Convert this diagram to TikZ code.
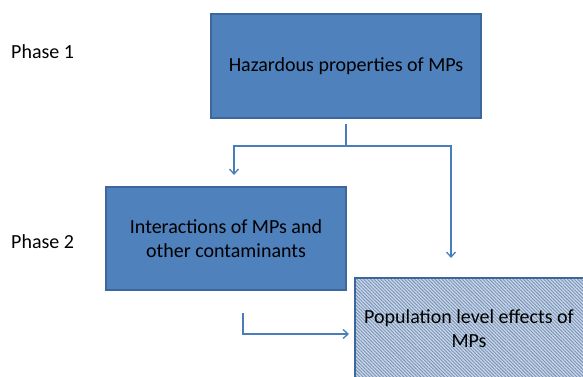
\documentclass[tikz,border=0pt]{standalone}
\usepackage{fontspec}
\setmainfont{Carlito}
\usetikzlibrary{arrows.meta,patterns.meta}
\definecolor{boxfill}{HTML}{4F81BD}
\definecolor{boxedge}{HTML}{3B679C}
\definecolor{linkc}{HTML}{4A7EBB}
\definecolor{hatchbg}{HTML}{CBD7E6}
\definecolor{hatchfg}{HTML}{7893BA}
\begin{document}
\begin{tikzpicture}[x=1pt,y=-1pt,
  blockbox/.style={draw=boxedge,line width=1.2pt,fill=boxfill,align=center,font=\fontsize{20}{24}\selectfont,inner sep=0pt},
  hatchbox/.style={draw=boxedge,line width=1.2pt,align=center,inner sep=0pt,
    preaction={fill=hatchbg},pattern={Lines[angle=-45,distance=2.4pt,line width=0.9pt]},pattern color=hatchfg},
  phase/.style={font=\fontsize{20}{24}\selectfont,anchor=west,inner sep=0pt},
  link/.style={draw=linkc,line width=1.3pt,-{Straight Barb[length=5pt,width=9pt,line width=1.3pt]}}]
\useasboundingbox (0,0) rectangle (583,377);
\clip (0,0) rectangle (583,377);
\node[phase] (p1) at (11,52) {Phase 1};
\node[phase] (p2) at (11,242) {Phase 2};
\node[blockbox,minimum width=270pt,minimum height=104pt] (b1) at (346,66) {Hazardous properties of MPs};
\node[blockbox,minimum width=240pt,minimum height=103pt] (b2) at (226,238.5) {Interactions of MPs and\\other contaminants};
\node[hatchbox,minimum width=232pt,minimum height=110pt,anchor=north west] (b3) at (354.5,277.5) {};
\node[font=\fontsize{20}{24}\selectfont,align=center,inner sep=0pt] (t3) at (469,329) {Population level effects of\\MPs};
\coordinate (s1) at (346,124);
\coordinate (j1) at (346,146);
\coordinate (l1) at (234,146);
\coordinate (r1) at (451,146);
\coordinate (e1) at (234,175);
\coordinate (e2) at (451,258);
\draw[draw=linkc,line width=1.3pt] (s1) -- (j1);
\draw[link] (j1) -- (l1) -- (e1);
\draw[link] (j1) -- (r1) -- (e2);
\coordinate (s2) at (243,313);
\coordinate (c2) at (243,334);
\coordinate (e3) at (349,334);
\draw[link] (s2) -- (c2) -- (e3);
\end{tikzpicture}
\end{document}
